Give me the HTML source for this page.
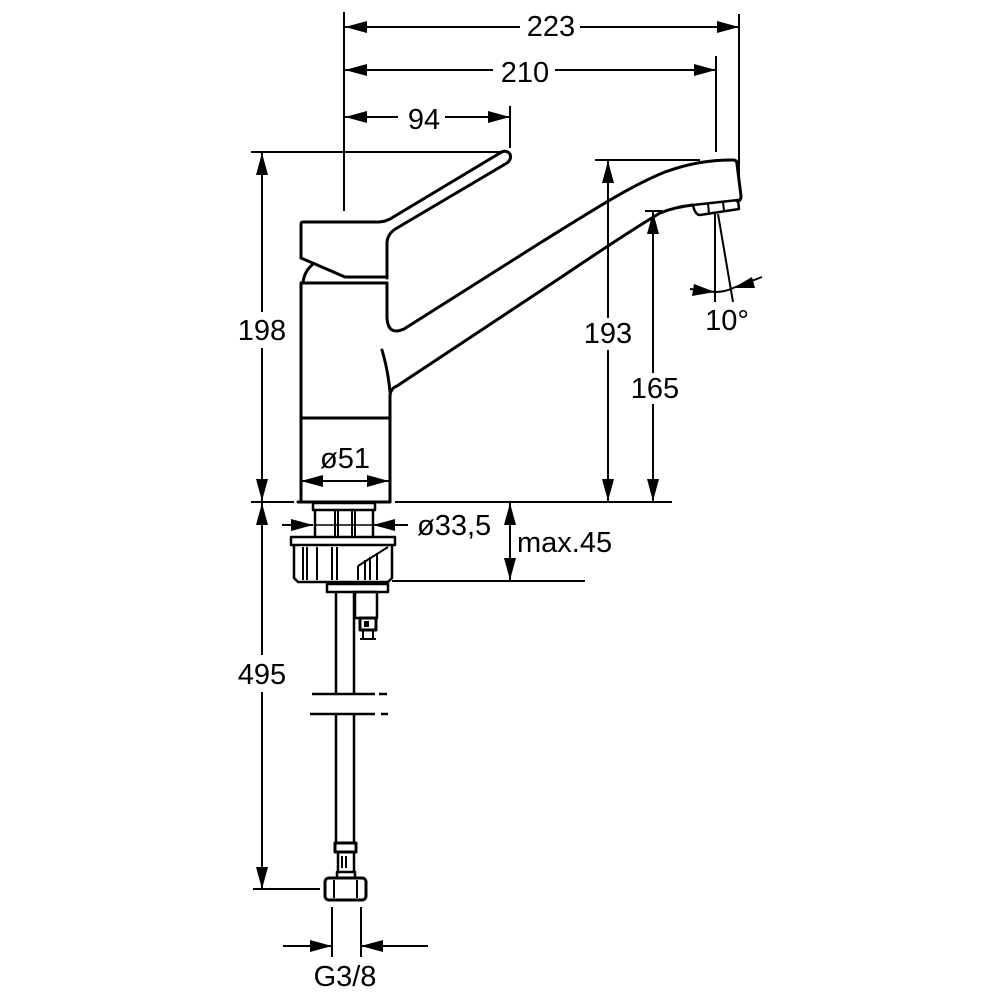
<!DOCTYPE html>
<html><head><meta charset="utf-8"><style>
html,body{margin:0;padding:0;background:#fff;}
svg{display:block;}
text{font-family:"Liberation Sans",Arial,sans-serif;font-size:29px;fill:#000;}
</style></head><body>
<svg width="1000" height="1000" viewBox="0 0 1000 1000" xmlns="http://www.w3.org/2000/svg">
<rect width="1000" height="1000" fill="#fff"/>
<!-- dimension lines -->
<g stroke="#000" stroke-width="2" fill="none">
  <!-- top extension lines -->
  <line x1="344" y1="12" x2="344" y2="211"/>
  <line x1="739" y1="14" x2="739" y2="182"/>
  <line x1="716" y1="56" x2="716" y2="152"/>
  <line x1="510" y1="106" x2="510" y2="148"/>
  <!-- 223 -->
  <line x1="345" y1="27" x2="520" y2="27"/><line x1="580" y1="27" x2="739" y2="27"/>
  <!-- 210 -->
  <line x1="345" y1="70" x2="493" y2="70"/><line x1="555" y1="70" x2="716" y2="70"/>
  <!-- 94 -->
  <line x1="345" y1="117" x2="398" y2="117"/><line x1="445" y1="117" x2="510" y2="117"/>
  <!-- left dims -->
  <line x1="251" y1="152" x2="502" y2="152"/>
  <line x1="262" y1="152" x2="262" y2="312"/><line x1="262" y1="348" x2="262" y2="501"/>
  <line x1="251" y1="502" x2="294" y2="502"/>
  <line x1="262" y1="503" x2="262" y2="655"/><line x1="262" y1="692" x2="262" y2="889"/>
  <line x1="253" y1="889" x2="320" y2="889"/>
  <!-- 193 / 165 -->
  <line x1="595" y1="160" x2="700" y2="160"/>
  <line x1="608" y1="160" x2="608" y2="318"/><line x1="608" y1="350" x2="608" y2="502"/>
  <line x1="645" y1="211" x2="662" y2="211"/>
  <line x1="653" y1="211" x2="653" y2="373"/><line x1="653" y1="404" x2="653" y2="502"/>
  <line x1="395" y1="502" x2="672" y2="502"/>
  <!-- max.45 -->
  <line x1="510" y1="502" x2="510" y2="581"/>
  <line x1="392" y1="581" x2="585" y2="581"/>
  <!-- ø33,5 -->
  <line x1="282" y1="525" x2="313" y2="525"/><line x1="373" y1="525" x2="408" y2="525"/>
  <!-- ø51 -->
  <line x1="301" y1="481" x2="389" y2="481"/>
  <!-- 10° -->
  <line x1="715" y1="214" x2="715" y2="302"/>
  <line x1="718" y1="214" x2="733" y2="302"/>
  <line x1="690" y1="289" x2="715" y2="292"/>
  <path d="M715,292 Q725,292 733,288"/>
  <line x1="762" y1="277" x2="733" y2="288"/>
  <!-- G3/8 -->
  <line x1="332" y1="907" x2="332" y2="957"/><line x1="361" y1="907" x2="361" y2="957"/>
  <line x1="283" y1="946" x2="332" y2="946"/><line x1="361" y1="946" x2="428" y2="946"/>
</g>
<!-- arrowheads -->
<g fill="#000" stroke="none">
  <polygon points="345,27 367,21 367,33"/><polygon points="739,27 717,21 717,33"/>
  <polygon points="345,70 367,64 367,76"/><polygon points="716,70 694,64 694,76"/>
  <polygon points="345,117 367,111 367,123"/><polygon points="510,117 488,111 488,123"/>
  <polygon points="262,153 256,175 268,175"/><polygon points="262,501 256,479 268,479"/>
  <polygon points="262,503 256,525 268,525"/><polygon points="262,889 256,867 268,867"/>
  <polygon points="608,161 602,183 614,183"/><polygon points="608,501 602,479 614,479"/>
  <polygon points="653,212 647,234 659,234"/><polygon points="653,501 647,479 659,479"/>
  <polygon points="510,503 504,525 516,525"/><polygon points="510,580 504,558 516,558"/>
  <polygon points="313,525 291,519 291,531"/><polygon points="373,525 395,519 395,531"/>
  <polygon points="301,481 323,475 323,487"/><polygon points="389,481 367,475 367,487"/>
  <polygon points="715,292 694,284 692,296"/><polygon points="733,288 752,277 755,288"/>
  <polygon points="332,946 310,940 310,952"/><polygon points="361,946 383,940 383,952"/>
</g>
<!-- faucet outline -->
<g stroke="#000" stroke-width="3" fill="none" stroke-linejoin="round" stroke-linecap="round">
  <path d="M301,258 L301,224 Q301,222 303,222 L378,222 Q384,222 390,219 L500,153 Q506,149 510,154 Q512,159 507,163 L397,228 Q388,233 387,242 L387,278"/>
  <path d="M301,258 L345,277 L387,277"/>
  <path d="M312,265 Q304,272 303,283"/>
  <path d="M301,283 L387,283"/>
  <path d="M301,283 L301,502"/>
  <path d="M298,502 L390,502"/>
  <path d="M301,418 L390,418"/>
  <path d="M387,283 L387,318 Q388,336 404,329 L540,243 C590,212 630,186 665,172 C690,163 710,160 733,160 Q737,160 737,164 L741,196 Q741,201 737,201"/>
  <path d="M390,502 L390,395 Q391,388 397,386 L560,278 C600,251 635,228 660,213 Q675,207 693,205"/>
  <path d="M382,350 Q388,370 390,392"/>
  <!-- aerator -->
  <path d="M693,205 L738,200 L739,209 L700,215 Q695,215 693,205 Z" stroke-width="2.5"/>
  <line x1="708" y1="204" x2="709" y2="213" stroke-width="2"/>
  <line x1="723" y1="202" x2="724" y2="211" stroke-width="2"/>
</g>
<!-- base parts -->
<g stroke="#000" stroke-width="2.5" fill="none" stroke-linejoin="round">
  <rect x="313" y="503" width="62" height="7"/>
  <line x1="315" y1="510" x2="315" y2="537"/><line x1="373" y1="510" x2="373" y2="537"/>
  <line x1="335" y1="510" x2="335" y2="537" stroke-width="2"/><line x1="338" y1="510" x2="338" y2="537" stroke-width="2"/>
  <line x1="352" y1="510" x2="352" y2="537" stroke-width="2"/><line x1="355" y1="510" x2="355" y2="537" stroke-width="2"/>
  <line x1="315" y1="525" x2="373" y2="525" stroke-width="1.5"/>
  <rect x="291" y="537" width="104" height="8"/>
  <path d="M294,545 L294,578 L298,582 L388,582 L392,578 L392,545"/>
  <g stroke-width="2">
    <line x1="303" y1="547" x2="303" y2="580"/><line x1="307" y1="547" x2="307" y2="580"/>
    <line x1="317" y1="547" x2="317" y2="580"/><line x1="332" y1="547" x2="332" y2="580"/>
    <line x1="337" y1="547" x2="337" y2="580"/>
    <line x1="358" y1="566" x2="358" y2="580"/><line x1="365" y1="560" x2="365" y2="580"/>
    <line x1="370" y1="557" x2="370" y2="580"/><line x1="377" y1="553" x2="377" y2="580"/>
    <line x1="358" y1="566" x2="388" y2="547"/>
  </g>
  <rect x="327" y="584" width="61" height="8"/>
  <!-- hose -->
  <line x1="336" y1="592" x2="336" y2="694"/><line x1="354" y1="592" x2="354" y2="694"/>
  <line x1="336" y1="714" x2="336" y2="843"/><line x1="354" y1="714" x2="354" y2="843"/>
  <line x1="312" y1="694" x2="375" y2="694"/><line x1="379" y1="694" x2="387" y2="694"/>
  <line x1="310" y1="714" x2="375" y2="714"/><line x1="381" y1="714" x2="388" y2="714"/>
  <!-- small connector -->
  <rect x="355" y="592" width="22" height="26"/>
  <rect x="360" y="618" width="16" height="12" stroke-width="3"/>
  <rect x="364" y="621" width="5" height="6" fill="#000" stroke="none"/>
  <line x1="363" y1="630" x2="363" y2="640" stroke-width="2"/><line x1="373" y1="630" x2="373" y2="640" stroke-width="2"/>
  <line x1="360" y1="639" x2="376" y2="639" stroke-width="2"/>
  <!-- bottom fitting -->
  <rect x="335" y="843" width="21" height="9" stroke-width="3"/>
  <line x1="338" y1="852" x2="338" y2="872"/><line x1="354" y1="852" x2="354" y2="872"/>
  <line x1="342" y1="856" x2="342" y2="868" stroke-width="2"/><line x1="346" y1="856" x2="346" y2="868" stroke-width="2"/>
  <rect x="337" y="872" width="18" height="6"/>
  <rect x="325" y="878" width="41" height="22" rx="4" stroke-width="3"/>
  <line x1="334" y1="880" x2="334" y2="898" stroke-width="2"/><line x1="357" y1="880" x2="357" y2="898" stroke-width="2"/>
</g>
<!-- labels -->
<text x="551" y="36" text-anchor="middle">223</text>
<text x="525" y="82" text-anchor="middle">210</text>
<text x="424" y="129" text-anchor="middle">94</text>
<text x="262" y="340" text-anchor="middle">198</text>
<text x="262" y="684" text-anchor="middle">495</text>
<text x="608" y="343" text-anchor="middle">193</text>
<text x="655" y="398" text-anchor="middle">165</text>
<text x="345" y="468" text-anchor="middle">ø51</text>
<text x="417" y="535">ø33,5</text>
<text x="517" y="552">max.45</text>
<text x="727" y="330" text-anchor="middle">10°</text>
<text x="345" y="986" text-anchor="middle">G3/8</text>
</svg>
</body></html>
